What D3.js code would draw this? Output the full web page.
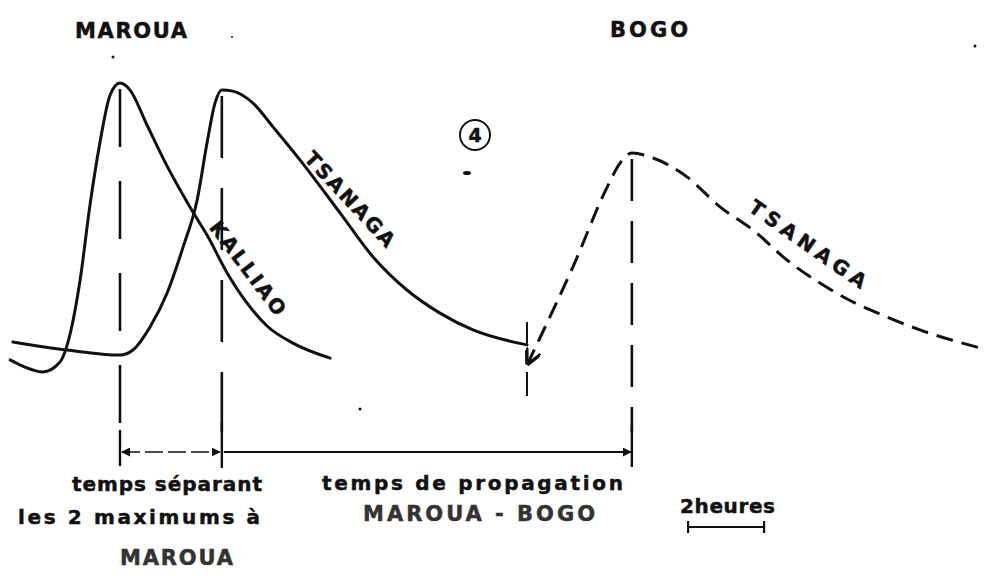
<!DOCTYPE html>
<html>
<head>
<meta charset="utf-8">
<script src="https://cdn.jsdelivr.net/npm/d3@7/dist/d3.min.js"></script>
<style>
  html, body { margin: 0; padding: 0; background: #fff; }
  svg { display: block; }
  text { font-family: "DejaVu Sans", "Liberation Sans", sans-serif; font-weight: bold; fill: #111; stroke: #111; stroke-width: 0.5px; }
</style>
</head>
<body>
<svg id="chart" width="986" height="578"></svg>
<script>
// Time in hours after the Kalliao peak at Maroua; discharge in relative units (0-100).

// Kalliao hydrograph at Maroua
const kalliaoT = [-2.89, -2.50, -2.03, -1.58, -1.32, -1.05, -0.79, -0.53, -0.26, 0.00, 0.26, 0.71, 1.24, 1.84, 2.29, 2.82, 3.34, 3.87, 4.55, 5.53];
const kalliaoQ = [6.7, 4.3, 2.7, 6.0, 15.0, 33.3, 58.3, 79.0, 95.0, 99.0, 96.7, 85.0, 71.3, 57.7, 48.3, 35.7, 25.7, 18.0, 12.3, 7.3];

// Tsanaga hydrograph at Maroua
const tsanagaMarouaT = [-2.82, -1.39, 0.00, 0.34, 0.79, 1.24, 1.66, 2.03, 2.29, 2.50, 2.68, 2.97, 3.50, 4.03, 4.74, 5.79, 6.66, 7.55, 8.42, 9.29, 10.71];
const tsanagaMarouaQ = [12.7, 10.0, 8.3, 10.0, 17.7, 29.0, 44.3, 60.0, 79.0, 92.3, 96.7, 96.3, 92.3, 84.3, 73.3, 55.7, 41.0, 30.0, 22.3, 16.7, 11.7];

// Tsanaga hydrograph at Bogo
const tsanagaBogoT = [10.71, 11.05, 11.92, 12.82, 13.16, 13.47, 14.03, 14.92, 15.79, 16.66, 17.55, 18.42, 19.29, 20.18, 21.05, 22.63];
const tsanagaBogoQ = [5.0, 14.0, 37.7, 64.3, 72.3, 75.7, 74.0, 67.7, 57.7, 50.0, 40.0, 32.3, 26.0, 21.0, 16.7, 10.7];

// Peak times (hours)
const peakKalliaoMaroua = 0;
const peakTsanagaMaroua = 2.68;
const peakTsanagaBogo = 13.47;
const tsanagaMarouaEnd = 10.71;

// Scale bar
const scaleBarStart = 14.95;
const scaleBarHours = 2;

// Labels
const stationLabels = ["MAROUA", "BOGO"];
const curveLabels = ["TSANAGA", "KALLIAO", "TSANAGA"];
const figureNumber = "4";
const lagLabel = ["temps séparant", "les 2 maximums à", "MAROUA"];
const propagationLabel = ["temps de propagation", "MAROUA - BOGO"];
const scaleLabel = "2heures";

const svg = d3.select("#chart");
const x = d3.scaleLinear().domain([0, 10]).range([120, 500]);
const y = d3.scaleLinear().domain([0, 100]).range([380, 80]);

const zip = (ts, qs) => ts.map((t, i) => [t, qs[i]]);
const line = d3.line().x(d => x(d[0])).y(d => y(d[1])).curve(d3.curveMonotoneX);

const defs = svg.append("defs");
defs.append("marker")
  .attr("id", "arrowHead")
  .attr("viewBox", "0 0 10 10").attr("refX", 9).attr("refY", 5)
  .attr("markerWidth", 9).attr("markerHeight", 9).attr("markerUnits", "userSpaceOnUse")
  .attr("orient", "auto-start-reverse")
  .append("path").attr("d", "M0,0 L10,5 L0,10 Z").attr("fill", "#111");
defs.append("marker")
  .attr("id", "openHead")
  .attr("viewBox", "0 0 10 10").attr("refX", 10).attr("refY", 5)
  .attr("markerWidth", 16).attr("markerHeight", 16).attr("markerUnits", "userSpaceOnUse")
  .attr("orient", "auto-start-reverse")
  .append("path").attr("d", "M0,0 L10,5 L0,10").attr("fill", "none").attr("stroke", "#111").attr("stroke-width", 2.2);

const ink = "#111";

// Hydrographs at Maroua
svg.append("path").datum(zip(kalliaoT, kalliaoQ))
  .attr("d", line).attr("fill", "none").attr("stroke", ink).attr("stroke-width", 3)
  .attr("stroke-linecap", "round");
svg.append("path").datum(zip(tsanagaMarouaT, tsanagaMarouaQ))
  .attr("d", line).attr("fill", "none").attr("stroke", ink).attr("stroke-width", 3)
  .attr("stroke-linecap", "round");

// Hydrograph at Bogo (dashed)
svg.append("path").datum(zip(tsanagaBogoT, tsanagaBogoQ))
  .attr("d", line).attr("fill", "none").attr("stroke", ink).attr("stroke-width", 3)
  .attr("stroke-dasharray", "17,9")
  .attr("marker-start", "url(#openHead)");

// Short mark where the Maroua Tsanaga curve ends
svg.append("line")
  .attr("x1", x(tsanagaMarouaEnd)).attr("x2", x(tsanagaMarouaEnd))
  .attr("y1", 322).attr("y2", 398)
  .attr("stroke", ink).attr("stroke-width", 2)
  .attr("stroke-dasharray", "24,26");

// Vertical dashed lines through the peaks
const peakLines = [
  { t: peakKalliaoMaroua, q: d3.max(kalliaoQ), dash: "58,34" },
  { t: peakTsanagaMaroua, q: d3.max(tsanagaMarouaQ), dash: "62,30" },
  { t: peakTsanagaBogo, q: d3.max(tsanagaBogoQ), dash: "42,20" }
];
svg.selectAll(".peak").data(peakLines).join("line")
  .attr("class", "peak")
  .attr("x1", d => x(d.t)).attr("x2", d => x(d.t))
  .attr("y1", d => y(d.q) + 6).attr("y2", 432)
  .attr("stroke", ink).attr("stroke-width", 2.6)
  .attr("stroke-dasharray", d => d.dash);

// Time interval line below the curves
const yi = 452;
svg.append("line")
  .attr("x1", x(peakKalliaoMaroua) + 2).attr("x2", x(peakTsanagaMaroua) - 2)
  .attr("y1", yi).attr("y2", yi)
  .attr("stroke", ink).attr("stroke-width", 1.6).attr("stroke-dasharray", "18,5")
  .attr("marker-start", "url(#arrowHead)").attr("marker-end", "url(#arrowHead)");
svg.append("line")
  .attr("x1", x(peakTsanagaMaroua) + 2).attr("x2", x(peakTsanagaBogo) - 1)
  .attr("y1", yi).attr("y2", yi)
  .attr("stroke", ink).attr("stroke-width", 2)
  .attr("marker-end", "url(#arrowHead)");
const ticks = [
  { t: peakKalliaoMaroua, y1: 430, y2: 466 },
  { t: peakTsanagaMaroua, y1: 422, y2: 468 },
  { t: peakTsanagaBogo, y1: 425, y2: 467 }
];
svg.selectAll(".tick").data(ticks).join("line")
  .attr("class", "tick")
  .attr("x1", d => x(d.t)).attr("x2", d => x(d.t))
  .attr("y1", d => d.y1).attr("y2", d => d.y2)
  .attr("stroke", ink).attr("stroke-width", 2.4);

// Scale bar: 2 hours
const sb = svg.append("g");
sb.append("line")
  .attr("x1", x(scaleBarStart)).attr("x2", x(scaleBarStart + scaleBarHours))
  .attr("y1", 527).attr("y2", 527).attr("stroke", ink).attr("stroke-width", 2);
[scaleBarStart, scaleBarStart + scaleBarHours].forEach(t => {
  sb.append("line").attr("x1", x(t)).attr("x2", x(t)).attr("y1", 521).attr("y2", 533)
    .attr("stroke", ink).attr("stroke-width", 2.2);
});
svg.append("text").text(scaleLabel)
  .attr("x", 680).attr("y", 513).attr("font-size", 20)
  .attr("textLength", 95).attr("lengthAdjust", "spacing");

// Station names
svg.append("text").text(stationLabels[0])
  .attr("x", 75).attr("y", 38).attr("font-size", 21)
  .attr("textLength", 112).attr("lengthAdjust", "spacing");
svg.append("text").text(stationLabels[1])
  .attr("x", 610).attr("y", 37).attr("font-size", 21)
  .attr("textLength", 78).attr("lengthAdjust", "spacing");

// Curve names, written along the curves
const curveText = [
  { label: curveLabels[0], cx: 350, cy: 199, angle: 47, len: 122 },
  { label: curveLabels[1], cx: 248, cy: 268, angle: 53, len: 112 },
  { label: curveLabels[2], cx: 808, cy: 244, angle: 35, len: 138 }
];
svg.selectAll(".curveName").data(curveText).join("text")
  .attr("class", "curveName")
  .attr("transform", d => `translate(${d.cx},${d.cy}) rotate(${d.angle})`)
  .attr("text-anchor", "middle").attr("dy", "0.36em")
  .attr("font-size", 20)
  .attr("textLength", d => d.len).attr("lengthAdjust", "spacing")
  .text(d => d.label);

// Figure number in a circle
svg.append("circle").attr("cx", 475).attr("cy", 135).attr("r", 15)
  .attr("fill", "none").attr("stroke", ink).attr("stroke-width", 2);
svg.append("text").text(figureNumber)
  .attr("x", 475).attr("y", 135).attr("dy", "0.36em")
  .attr("text-anchor", "middle").attr("font-size", 19);

// Interval captions
const captions = [
  { text: lagLabel[0], x: 72, y: 491, len: 190, size: 20 },
  { text: lagLabel[1], x: 18, y: 524, len: 242, size: 20 },
  { text: lagLabel[2], x: 120, y: 565, len: 113, size: 21, fill: "#333" },
  { text: propagationLabel[0], x: 322, y: 490, len: 301, size: 20 },
  { text: propagationLabel[1], x: 363, y: 521, len: 232, size: 21, fill: "#333" }
];
svg.selectAll(".caption").data(captions).join("text")
  .attr("class", "caption")
  .attr("x", d => d.x).attr("y", d => d.y)
  .attr("font-size", d => d.size)
  .attr("textLength", d => d.len).attr("lengthAdjust", "spacing")
  .style("fill", d => d.fill || ink)
  .style("stroke", d => d.fill || ink)
  .text(d => d.text);

// Stray ink marks on the sheet
const specks = [[467, 173, 4, 2], [113, 57, 1.5, 1.5], [232, 37, 1, 1], [360, 409, 1.5, 1.5], [975, 46, 1.5, 1.5]];
svg.selectAll(".speck").data(specks).join("ellipse")
  .attr("class", "speck")
  .attr("cx", d => d[0]).attr("cy", d => d[1]).attr("rx", d => d[2]).attr("ry", d => d[3])
  .attr("fill", ink);
</script>
</body>
</html>
